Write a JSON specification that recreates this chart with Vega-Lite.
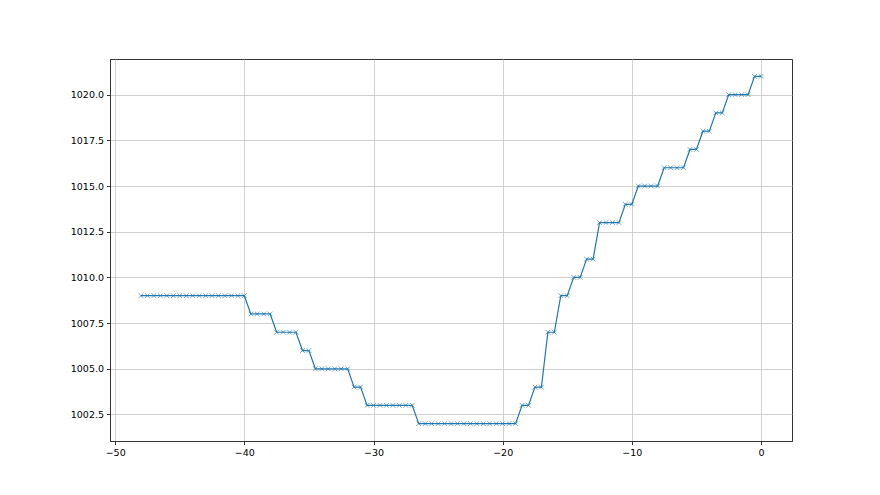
{
  "$schema": "https://vega.github.io/schema/vega-lite/v6.json",
  "width": 682,
  "height": 382,
  "autosize": "none",
  "padding": {"left": 110, "top": 59, "right": 88, "bottom": 54},
  "background": "white",
  "config": {
    "view": {"stroke": "#333333", "strokeWidth": 1},
    "axis": {
      "labelFont": "DejaVu Sans",
      "labelFontSize": 9.5,
      "labelColor": "black",
      "domainColor": "#333333",
      "tickColor": "#333333",
      "tickSize": 3.5,
      "gridColor": "#c4c4c4",
      "gridWidth": 0.8,
      "title": null,
      "labelPadding": 3
    }
  },
  "data": {"values": [
    {"x": -48, "y": 1009}, {"x": -47.5, "y": 1009}, {"x": -47, "y": 1009}, {"x": -46.5, "y": 1009},
    {"x": -46, "y": 1009}, {"x": -45.5, "y": 1009}, {"x": -45, "y": 1009}, {"x": -44.5, "y": 1009},
    {"x": -44, "y": 1009}, {"x": -43.5, "y": 1009}, {"x": -43, "y": 1009}, {"x": -42.5, "y": 1009},
    {"x": -42, "y": 1009}, {"x": -41.5, "y": 1009}, {"x": -41, "y": 1009}, {"x": -40.5, "y": 1009},
    {"x": -40, "y": 1009},
    {"x": -39.5, "y": 1008}, {"x": -39, "y": 1008}, {"x": -38.5, "y": 1008}, {"x": -38, "y": 1008},
    {"x": -37.5, "y": 1007}, {"x": -37, "y": 1007}, {"x": -36.5, "y": 1007}, {"x": -36, "y": 1007},
    {"x": -35.5, "y": 1006}, {"x": -35, "y": 1006},
    {"x": -34.5, "y": 1005}, {"x": -34, "y": 1005}, {"x": -33.5, "y": 1005}, {"x": -33, "y": 1005},
    {"x": -32.5, "y": 1005}, {"x": -32, "y": 1005},
    {"x": -31.5, "y": 1004}, {"x": -31, "y": 1004},
    {"x": -30.5, "y": 1003}, {"x": -30, "y": 1003}, {"x": -29.5, "y": 1003}, {"x": -29, "y": 1003},
    {"x": -28.5, "y": 1003}, {"x": -28, "y": 1003}, {"x": -27.5, "y": 1003}, {"x": -27, "y": 1003},
    {"x": -26.5, "y": 1002}, {"x": -26, "y": 1002}, {"x": -25.5, "y": 1002}, {"x": -25, "y": 1002},
    {"x": -24.5, "y": 1002}, {"x": -24, "y": 1002}, {"x": -23.5, "y": 1002}, {"x": -23, "y": 1002},
    {"x": -22.5, "y": 1002}, {"x": -22, "y": 1002}, {"x": -21.5, "y": 1002}, {"x": -21, "y": 1002},
    {"x": -20.5, "y": 1002}, {"x": -20, "y": 1002}, {"x": -19.5, "y": 1002}, {"x": -19, "y": 1002},
    {"x": -18.5, "y": 1003}, {"x": -18, "y": 1003},
    {"x": -17.5, "y": 1004}, {"x": -17, "y": 1004},
    {"x": -16.5, "y": 1007}, {"x": -16, "y": 1007},
    {"x": -15.5, "y": 1009}, {"x": -15, "y": 1009},
    {"x": -14.5, "y": 1010}, {"x": -14, "y": 1010},
    {"x": -13.5, "y": 1011}, {"x": -13, "y": 1011},
    {"x": -12.5, "y": 1013}, {"x": -12, "y": 1013}, {"x": -11.5, "y": 1013}, {"x": -11, "y": 1013},
    {"x": -10.5, "y": 1014}, {"x": -10, "y": 1014},
    {"x": -9.5, "y": 1015}, {"x": -9, "y": 1015}, {"x": -8.5, "y": 1015}, {"x": -8, "y": 1015},
    {"x": -7.5, "y": 1016}, {"x": -7, "y": 1016}, {"x": -6.5, "y": 1016}, {"x": -6, "y": 1016},
    {"x": -5.5, "y": 1017}, {"x": -5, "y": 1017},
    {"x": -4.5, "y": 1018}, {"x": -4, "y": 1018},
    {"x": -3.5, "y": 1019}, {"x": -3, "y": 1019},
    {"x": -2.5, "y": 1020}, {"x": -2, "y": 1020}, {"x": -1.5, "y": 1020}, {"x": -1, "y": 1020},
    {"x": -0.5, "y": 1021}, {"x": 0, "y": 1021}
  ]},
  "encoding": {
    "x": {
      "field": "x", "type": "quantitative",
      "scale": {"domain": [-50.4, 2.4], "nice": false, "zero": false},
      "axis": {"values": [-50, -40, -30, -20, -10, 0], "format": "d", "grid": true}
    },
    "y": {
      "field": "y", "type": "quantitative",
      "scale": {"domain": [1001.05, 1021.95], "nice": false, "zero": false},
      "axis": {"values": [1002.5, 1005, 1007.5, 1010, 1012.5, 1015, 1017.5, 1020], "format": ".1f", "grid": true}
    }
  },
  "layer": [
    {"mark": {"type": "line", "color": "#1f77b4", "strokeWidth": 1.2}},
    {"mark": {"type": "point", "shape": "M-1,-1L1,1M-1,1L1,-1", "filled": false, "color": "#1f77b4", "strokeWidth": 0.8, "size": 22, "opacity": 0.8}}
  ]
}
